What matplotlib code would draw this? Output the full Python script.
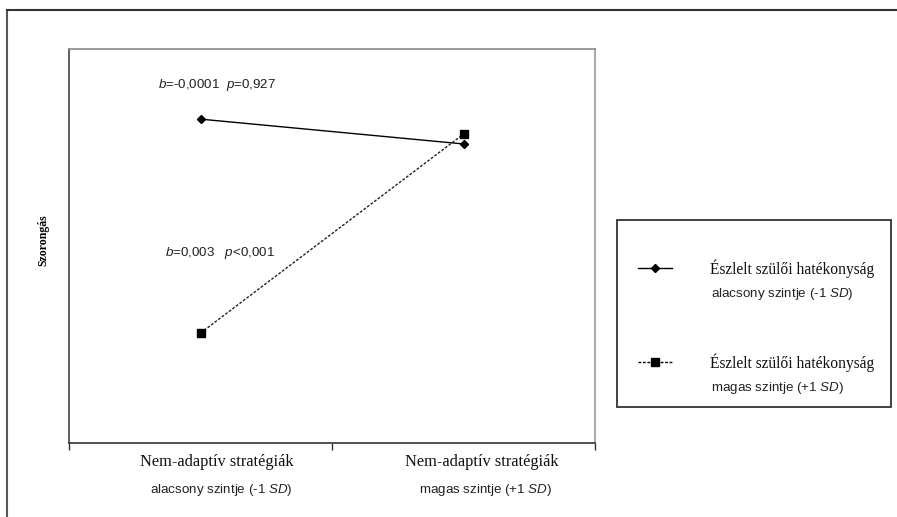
import matplotlib
matplotlib.use("Agg")
import matplotlib.pyplot as plt
from matplotlib.lines import Line2D
from matplotlib.patches import Rectangle

# ---- data ----
x_categories = ["Nem-adaptív stratégiák", "Nem-adaptív stratégiák"]
x_sublabels = ["alacsony szintje (-1 $\\mathit{SD}$)", "magas szintje (+1 $\\mathit{SD}$)"]
x_pos = [0.5, 1.5]
low_eff = [8.22, 7.59]    # Észlelt szülői hatékonyság alacsony szintje (-1 SD)
high_eff = [2.79, 7.84]   # Észlelt szülői hatékonyság magas szintje (+1 SD)
series_names = ["Észlelt szülői hatékonyság", "Észlelt szülői hatékonyság"]
series_sub = ["alacsony szintje (-1 $\\mathit{SD}$)", "magas szintje (+1 $\\mathit{SD}$)"]
annot_low = "$\\mathit{b}$=-0,0001  $\\mathit{p}$=0,927"
annot_high = "$\\mathit{b}$=0,003   $\\mathit{p}$<0,001"
ylabel = "Szorongás"

plt.rcParams['mathtext.fontset'] = 'custom'
plt.rcParams['mathtext.rm'] = 'Liberation Sans'
plt.rcParams['mathtext.it'] = 'Liberation Sans:italic'

W, H = 897, 517
fig = plt.figure(figsize=(W / 100, H / 100), dpi=100)
fig.patch.set_facecolor("white")

def fx(px):
    return px / W

def fy(py):
    return 1 - py / H

ax = fig.add_axes([fx(69), fy(443), fx(595) - fx(69), fy(49) - fy(443)])
ax.set_xlim(0, 2)
ax.set_ylim(0, 10)

ax.plot(x_pos, low_eff, color="black", lw=1.0, marker="D", ms=4.5,
        markerfacecolor="black", markeredgecolor="black")
ax.plot(x_pos, high_eff, color="#222222", lw=1.0, ls=(0, (2, 1.2)), marker="s", ms=5.5,
        markerfacecolor="black", markeredgecolor="black")

ax.set_xticks([0, 1, 2])
ax.set_xticklabels([])
ax.set_yticks([])
ax.tick_params(axis="x", direction="out", length=5, width=1, color="#333333")
ax.spines["left"].set_color("#444444")
ax.spines["bottom"].set_color("#333333")
ax.spines["top"].set_color("#8a8a8a")
ax.spines["right"].set_color("#9a9a9a")
for s in ax.spines.values():
    s.set_linewidth(1.2)

# annotations
fig.text(fx(158), fy(85), annot_low, fontsize=9.6, family="Liberation Sans",
         ha="left", va="center", color="#222222")
fig.text(fx(165), fy(253), annot_high, fontsize=9.6, family="Liberation Sans",
         ha="left", va="center", color="#222222")

# y label
fig.text(fx(43), fy(240), ylabel, rotation=90, fontsize=8.5, family="Liberation Serif",
         weight="bold", ha="center", va="center")

# x labels
for cx, name, sub in zip([217, 482], x_categories, x_sublabels):
    fig.text(fx(cx), fy(462), name, fontsize=11.8, family="Liberation Serif",
             ha="center", va="center", color="#111111")
    fig.text(fx(cx + 4), fy(490), sub, fontsize=9.6, family="Liberation Sans",
             ha="center", va="center", color="#222222")

# outer frame (left & top)
fig.add_artist(Line2D([fx(7), fx(7)], [fy(9.5), 0], color="#555555", lw=1.5))
fig.add_artist(Line2D([fx(7), 1], [fy(9.5), fy(9.5)], color="#333333", lw=1.5))

# legend box
fig.add_artist(Rectangle((fx(617), fy(407)), fx(891) - fx(617), fy(220) - fy(407),
                         fill=False, edgecolor="#333333", lw=1.3))
rows = [(268, 294), (362, 388)]
styles = [dict(ls="-", marker="D", ms=4.5), dict(ls=(0, (2, 1.2)), marker="s", ms=5.5)]
for (y1, y2), st, nm, sb in zip(rows, styles, series_names, series_sub):
    fig.add_artist(Line2D([fx(638), fx(672)], [fy(y1), fy(y1)], color="black", lw=1.0,
                          ls=st["ls"], marker=None))
    fig.add_artist(Line2D([fx(655)], [fy(y1)], color="black", marker=st["marker"],
                          ms=st["ms"], markerfacecolor="black", ls="none"))
    fig.text(fx(710), fy(y1 + 1), nm, fontsize=11.2, family="Liberation Serif",
             ha="left", va="center", color="#111111")
    fig.text(fx(711), fy(y2), sb, fontsize=9.6, family="Liberation Sans",
             ha="left", va="center", color="#222222")

fig.savefig("out.png", dpi=100, facecolor="white")
